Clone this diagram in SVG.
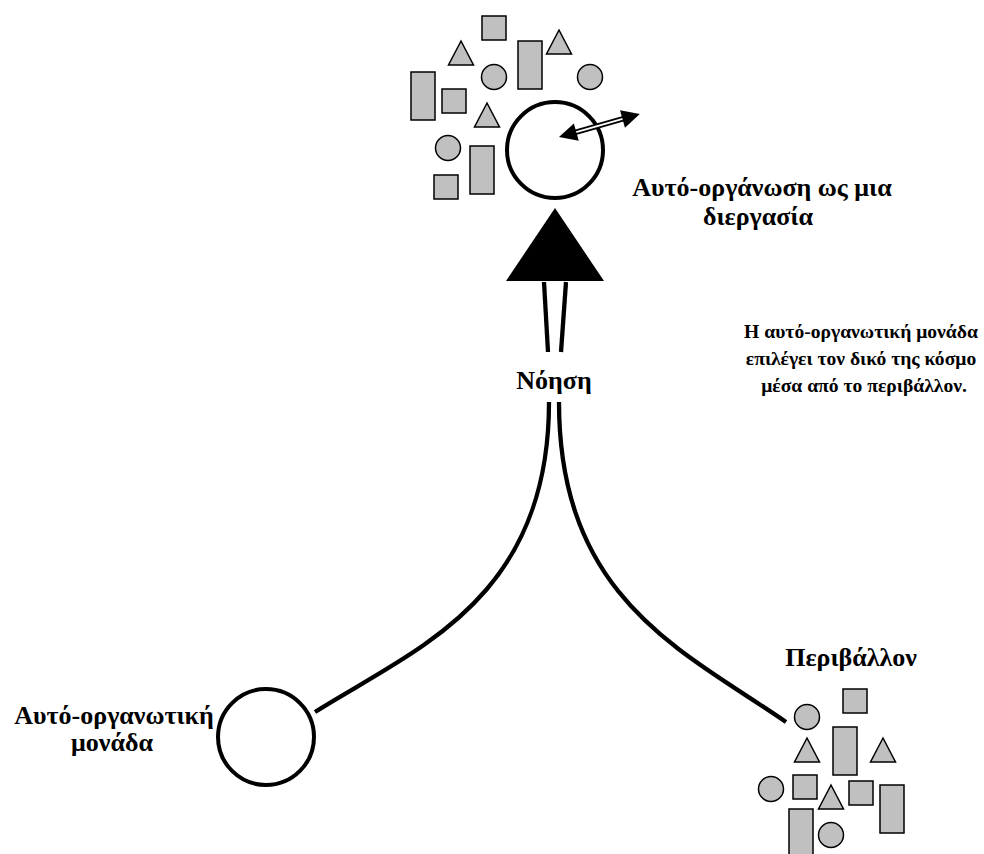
<svg xmlns="http://www.w3.org/2000/svg" width="984" height="854" viewBox="0 0 984 854">
  <style>
    .bg { fill: #ffffff; }
    .item { fill: #c0c0c0; stroke: #000000; stroke-width: 1.5; }
    .ring { fill: #ffffff; stroke: #000000; stroke-width: 4; }
    .wire { fill: none; stroke: #000000; stroke-width: 4.3; }
    .lbl { font-family: "Liberation Serif", "Times New Roman", serif; font-weight: bold; font-size: 26px; fill: #000000; text-anchor: middle; }
    .note { font-size: 19.6px; }
  </style>
  <defs>
    <rect id="sq" class="item" width="24" height="24"/>
    <rect id="tall" class="item" width="24" height="48"/>
    <circle id="dot" class="item" r="12.5"/>
    <polygon id="tri" class="item" points="0,-24 12.5,0 -12.5,0"/>
  </defs>
  <rect class="bg" width="984" height="854"/>

  <!-- connectors: converging stems and the arrow into the process -->
  <g id="connectors">
    <path class="wire" d="M549,402 C549,600 415,649 315,712"/>
    <path class="wire" d="M559,402 C559,600 685,652 786,722"/>
    <line class="wire" x1="544" y1="282" x2="548" y2="352"/>
    <line class="wire" x1="566" y1="282" x2="561" y2="352"/>
    <polygon fill="#000000" points="506,281 555,208 604,281"/>
  </g>

  <!-- top: process cluster -->
  <g id="process">
    <use href="#sq" x="482" y="16"/>
    <use href="#tri" x="461" y="65"/>
    <use href="#dot" x="494" y="77"/>
    <use href="#tall" x="518" y="41"/>
    <use href="#tri" x="559" y="54"/>
    <use href="#dot" x="590" y="77"/>
    <use href="#tall" x="411" y="72"/>
    <use href="#sq" x="442" y="89"/>
    <use href="#tri" x="487" y="127"/>
    <use href="#dot" x="448" y="148"/>
    <use href="#tall" x="470" y="146"/>
    <use href="#sq" x="434" y="175"/>
    <circle class="ring" cx="555" cy="150" r="48"/>
    <!-- two-way exchange arrow -->
    <g transform="translate(559,137) rotate(-15.85)">
      <line x1="16" y1="0" x2="68" y2="0" stroke="#000000" stroke-width="5.5"/>
      <line x1="16" y1="0" x2="68" y2="0" stroke="#ffffff" stroke-width="1.8"/>
      <polygon fill="#000000" points="0,0 18,-9 18,9"/>
      <polygon fill="#000000" points="84,0 66,-9 66,9"/>
    </g>
    <text class="lbl" x="762" y="196">Αυτό-οργάνωση ως μια</text>
    <text class="lbl" x="758" y="225">διεργασία</text>
  </g>

  <!-- cognition label and explanation -->
  <g id="cognition">
    <text class="lbl" x="554" y="389">Νόηση</text>
  </g>
  <g id="note">
    <text class="lbl note" x="861" y="338">Η αυτό-οργανωτική μονάδα</text>
    <text class="lbl note" x="861" y="365">επιλέγει τον δικό της κόσμο</text>
    <text class="lbl note" x="864" y="392">μέσα από το περιβάλλον.</text>
  </g>

  <!-- bottom left: self-organising unit -->
  <g id="unit">
    <circle class="ring" cx="266" cy="737" r="48"/>
    <text class="lbl" x="114" y="724">Αυτό-οργανωτική</text>
    <text class="lbl" x="112" y="751">μονάδα</text>
  </g>

  <!-- bottom right: environment -->
  <g id="environment">
    <text class="lbl" x="851" y="666">Περιβάλλον</text>
    <use href="#dot" x="807" y="717"/>
    <use href="#sq" x="843" y="689"/>
    <use href="#tri" x="807" y="762"/>
    <use href="#tall" x="833" y="727"/>
    <use href="#tri" x="883" y="762"/>
    <use href="#dot" x="771" y="789"/>
    <use href="#sq" x="793" y="775"/>
    <use href="#tri" x="831" y="809"/>
    <use href="#sq" x="849" y="781"/>
    <use href="#tall" x="880" y="785"/>
    <use href="#tall" x="789" y="809"/>
    <use href="#dot" x="831" y="835"/>
  </g>
</svg>
